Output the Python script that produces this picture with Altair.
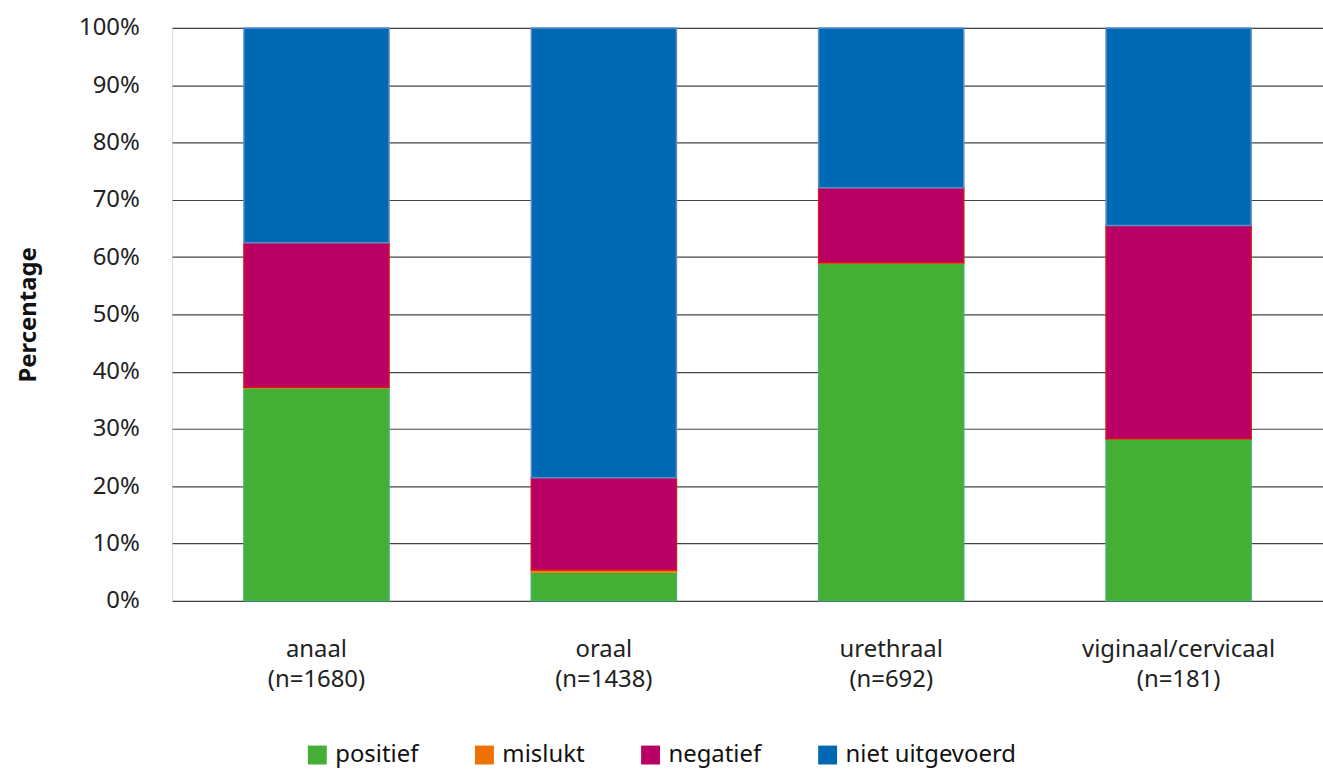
import altair as alt
import pandas as pd

locaties = ["anaal|(n=1680)", "oraal|(n=1438)", "urethraal|(n=692)", "viginaal/cervicaal|(n=181)"]
uitslagen = ["positief", "mislukt", "negatief", "niet uitgevoerd"]
positief = [37.2, 5.0, 58.9, 28.3]
mislukt = [0.1, 0.4, 0.1, 0.0]
negatief = [25.2, 16.1, 13.1, 37.2]
niet_uitgevoerd = [37.5, 78.5, 27.9, 34.5]

fill_colors = ["#45ae35", "#ee7203", "#b90064", "#0069b4"]
stroke_colors = ["#3fb36a", "#f58220", "#d4141c", "#5a8ed0"]

rows = []
for i, loc in enumerate(locaties):
    for j, (u, vals) in enumerate(zip(uitslagen, [positief, mislukt, negatief, niet_uitgevoerd])):
        rows.append({"locatie": loc, "uitslag": u, "pct": vals[i], "volgorde": j})
df = pd.DataFrame(rows)

FONT = "Noto Sans"

chart = alt.Chart(df).mark_bar(strokeWidth=1.5).encode(
    x=alt.X("locatie:N", sort=locaties,
            scale=alt.Scale(paddingInner=0.495, paddingOuter=0.25),
            axis=alt.Axis(title=None, labelAngle=0, ticks=False, domain=False,
                          labelPadding=37, labelFontSize=24, labelColor="#222",
                          labelFont=FONT, labelLineHeight=30, labelLimit=400,
                          labelExpr="split(datum.label, '|')")),
    y=alt.Y("pct:Q", stack="zero",
            scale=alt.Scale(domain=[0, 100], nice=False),
            axis=alt.Axis(title="Percentage", values=list(range(0, 101, 10)),
                          labelExpr="datum.value + '%'", ticks=False, domain=False,
                          grid=True, gridColor="#444", gridWidth=1.2,
                          labelPadding=33, labelFontSize=24, labelColor="#222",
                          labelFont=FONT, titleFont=FONT, titleFontSize=24,
                          titleFontWeight="bold", titleColor="#111", titlePadding=38)),
    color=alt.Color("uitslag:N", sort=uitslagen,
                    scale=alt.Scale(domain=uitslagen, range=fill_colors),
                    legend=alt.Legend(title=None, orient="none", direction="horizontal",
                                      legendX=134, legendY=719, padding=0,
                                      symbolType="square",
                                      symbolSize=361, symbolStrokeWidth=0,
                                      labelFontSize=24, labelFont=FONT, labelColor="#111",
                                      columnPadding=54, labelOffset=6, labelLimit=400)),
    stroke=alt.Stroke("uitslag:N", scale=alt.Scale(domain=uitslagen, range=stroke_colors),
                      legend=None),
    order=alt.Order("volgorde:Q", sort="ascending"),
).properties(
    width=1157, height=576,
    autosize=alt.AutoSizeParams(type="none"),
    padding={"left": 173, "top": 26, "right": 0, "bottom": 167},
).configure_view(stroke=None).configure(background="white")

chart.save("out.html", embed_options={"renderer": "svg", "actions": False})
